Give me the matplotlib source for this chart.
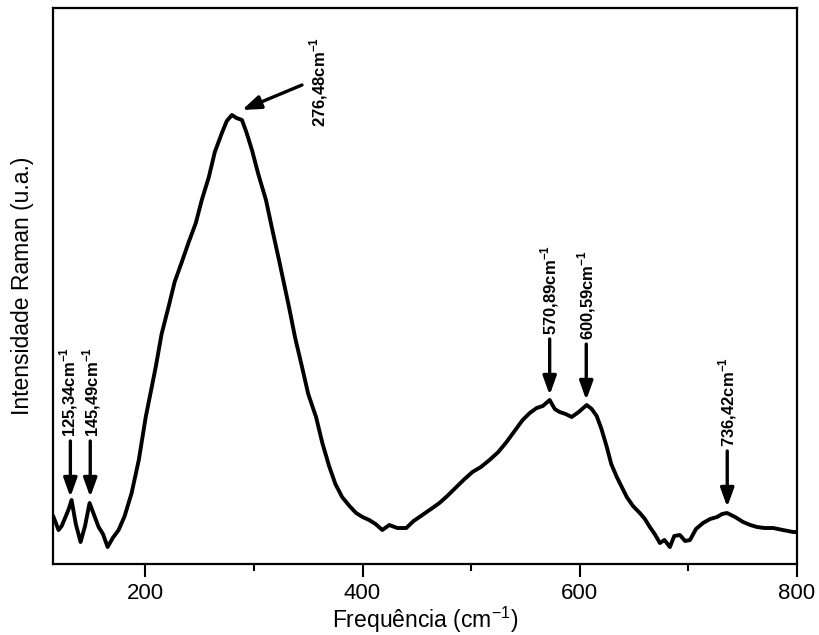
import numpy as np
import matplotlib.pyplot as plt

plt.rcParams['font.family'] = ['Liberation Sans', 'DejaVu Sans']
plt.rcParams['mathtext.fontset'] = 'custom'
plt.rcParams['mathtext.rm'] = 'Liberation Sans'
plt.rcParams['mathtext.bf'] = 'Liberation Sans:bold'

# Raman spectrum (arbitrary units)
freq = [115.5, 120.1, 123.0, 126.5, 129.5, 132.1, 136.0, 140.4, 144.5, 148.7,
        152.5, 157.0, 161.0, 165.3, 170.0, 175.4, 181.0, 187.4, 194.0, 200.4,
        205.0, 209.6, 215.0, 221.6, 227.0, 233.6, 240.0, 246.5, 252.0, 258.5,
        264.0, 270.5, 275.0, 279.7, 284.0, 289.0, 293.0, 298.2, 304.0, 311.1,
        317.0, 323.1, 332.3, 338.0, 344.3, 350.0, 357.2, 363.0, 369.2, 375.0,
        381.2, 388.0, 394.1, 400.0, 406.1, 412.0, 418.2, 424.7, 432.0, 440.3,
        447.0, 455.1, 463.0, 470.8, 478.0, 486.4, 494.0, 501.2, 509.0, 516.9,
        525.0, 532.6, 540.0, 547.4, 554.0, 560.3, 566.0, 572.3, 577.0, 581.5,
        587.0, 592.6, 599.0, 606.4, 611.0, 615.6, 620.0, 624.9, 629.0, 634.1,
        643.3, 649.0, 655.3, 660.0, 664.5, 669.0, 673.8, 678.0, 683.0, 687.0,
        692.2, 697.0, 701.5, 707.0, 713.5, 720.0, 726.4, 731.0, 735.6, 743.0,
        750.4, 757.0, 763.3, 770.0, 778.1, 787.0, 796.5, 800.0]
intensity = [47, 34, 38, 47, 55, 64, 40, 22, 38, 61,
             50, 37, 30, 17, 26, 34, 48, 71, 104, 147,
             172, 197, 230, 258, 282, 302, 322, 341, 364, 387,
             412, 431, 443, 449, 446, 444, 432, 414, 390, 364,
             334, 304, 257, 226, 197, 170, 147, 121, 98, 80,
             67, 58, 51, 47, 44, 40, 34, 39, 36, 36,
             43, 49, 55, 61, 68, 77, 85, 92, 97, 104,
             112, 122, 133, 144, 151, 156, 158, 164, 155, 152,
             150, 147, 152, 159, 155, 148, 135, 117, 100, 87,
             67, 58, 51, 45, 37, 30, 21, 24, 17, 28,
             29, 23, 24, 35, 41, 45, 47, 50, 51, 47,
             42, 39, 37, 36, 36, 34, 32, 32]

# peak labels: text, arrow tip position
peak_labels = ['125,34', '145,49', '276,48', '570,89', '600,59', '736,42']
peak_x = [131.0, 149.3, 289.0, 572.3, 606.0, 735.8]
peak_y = [67, 67, 454, 169, 164, 57]
label_dx = [-2, 1, 0, 0, 0, 0]

fig = plt.figure(figsize=(8.19, 6.35), dpi=100)
ax = fig.add_axes([0.0647, 0.1118, 0.9084, 0.8756])

ax.plot(freq, intensity, color='black', lw=2.8, solid_joinstyle='round')

arrow_kw = dict(arrowstyle='-|>,head_length=0.75,head_width=0.27',
                color='black', lw=2.4, mutation_scale=15,
                shrinkA=0, shrinkB=0)
for lab, px, py, dx in zip(peak_labels, peak_x, peak_y, label_dx):
    txt = lab + r'cm$^{\mathbf{-1}}$'
    if lab == '276,48':
        ax.annotate('', xy=(px, py), xytext=(60, 25), textcoords='offset pixels',
                    arrowprops=arrow_kw)
        ax.annotate(txt, xy=(px, py), xytext=(77, 28), textcoords='offset pixels',
                    rotation=90, ha='center', va='center', fontsize=12,
                    fontweight='bold')
    else:
        ax.annotate('', xy=(px, py), xytext=(0, 56), textcoords='offset pixels',
                    arrowprops=arrow_kw)
        ax.annotate(txt, xy=(px, py), xytext=(dx, 60), textcoords='offset pixels',
                    rotation=90, ha='center', va='bottom', fontsize=12,
                    fontweight='bold')

ax.set_xlim(115, 800)
ax.set_ylim(0, 556)
ax.set_xticks([200, 400, 600, 800])
ax.set_xticks([300, 500, 700], minor=True)
ax.set_yticks([])
ax.tick_params(axis='x', which='major', direction='out', length=9, width=1.5,
               labelsize=16, pad=5)
ax.tick_params(axis='x', which='minor', direction='out', length=5, width=1.5)
for s in ax.spines.values():
    s.set_linewidth(1.6)

ax.set_xlabel('Frequência (cm$^{-1}$)', fontsize=16.5, labelpad=0)
ax.set_ylabel('Intensidade Raman (u.a.)', fontsize=16.5, labelpad=14)

fig.savefig('out.png', dpi=100)
